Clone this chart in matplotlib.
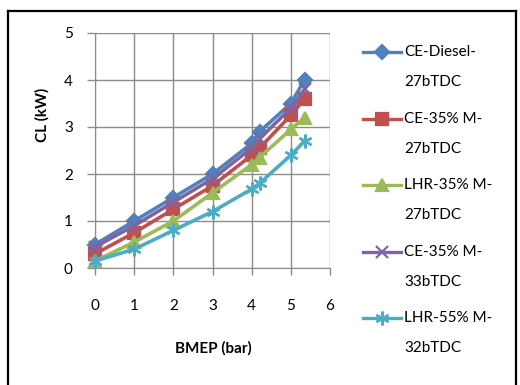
import matplotlib
matplotlib.use("Agg")
import matplotlib.pyplot as plt
from matplotlib.lines import Line2D

plt.rcParams["font.family"] = ["Lato", "DejaVu Sans"]

# BMEP (bar) load points
bmep = [0, 1, 2, 3, 4.0, 4.2, 5.0, 5.35]

# coolant load CL (kW) per configuration
ce_diesel_27 = [0.5, 1.0, 1.5, 2.0, 2.65, 2.9, 3.5, 4.0]
ce_35m_27 = [0.3, 0.75, 1.25, 1.75, 2.4, 2.55, 3.25, 3.6]
lhr_35m_27 = [0.15, 0.55, 1.0, 1.6, 2.2, 2.35, 2.95, 3.2]
ce_35m_33 = [0.45, 0.9, 1.4, 1.9, 2.55, 2.75, 3.4, 3.8]
lhr_55m_32 = [0.15, 0.4, 0.8, 1.2, 1.68, 1.8, 2.4, 2.7]

labels = [
    "CE-Diesel-\n27bTDC",
    "CE-35% M-\n27bTDC",
    "LHR-35% M-\n27bTDC",
    "CE-35% M-\n33bTDC",
    "LHR-55% M-\n32bTDC",
]
x_ticks = [0, 1, 2, 3, 4, 5, 6]
y_ticks = [0, 1, 2, 3, 4, 5]

series = [ce_diesel_27, ce_35m_27, lhr_35m_27, ce_35m_33, lhr_55m_32]
colors = ["#4F81BD", "#C0504D", "#9BBB59", "#8064A2", "#4BACC6"]
markers = ["D", "s", "^", "x", (6, 2, 0)]
msizes = [7, 8, 8.5, 8, 10]

W, H = 520, 385
fig = plt.figure(figsize=(W / 100, H / 100), dpi=100)


def px(x, y):
    """pixel position (from top-left) -> figure fraction"""
    return x / W, 1 - y / H


# outer frame (bottom edge runs off the image)
for (x0, y0), (x1, y1) in [((8, 385), (8, 11)), ((8, 11), (516, 11)), ((516, 11), (516, 385))]:
    (fx0, fy0), (fx1, fy1) = px(x0, y0), px(x1, y1)
    fig.add_artist(Line2D([fx0, fx1], [fy0, fy1], color="black", lw=1.6,
                          transform=fig.transFigure))

ax = fig.add_axes([95 / W, (H - 268) / H, 235 / W, 235 / H])

for vals, c, m, ms in zip(series, colors, markers, msizes):
    ax.plot(bmep, vals, color=c, marker=m, markersize=ms, lw=2.6,
            markeredgewidth=1.6, clip_on=False, zorder=3)

ax.set_xlim(0, 6)
ax.set_ylim(0, 5)
ax.set_xticks(x_ticks)
ax.set_yticks(y_ticks)
ax.grid(True, color="#8c8c8c", lw=1.0)
for side in ("top", "right"):
    ax.spines[side].set_visible(False)
for side in ("left", "bottom"):
    ax.spines[side].set_color("#8c8c8c")
ax.tick_params(axis="y", length=6, width=1, color="#8c8c8c", pad=10, labelsize=11)
ax.tick_params(axis="x", length=5, width=1, color="#8c8c8c", pad=17, labelsize=11)

fig.text(*px(42, 115), "CL (kW)", rotation=90, ha="center", va="center",
         fontsize=11, fontweight="bold")
fig.text(*px(213, 348), "BMEP (bar)", ha="center", va="center",
         fontsize=11, fontweight="bold")

# legend drawn by hand: handle on the first text line, wrapped labels
for i, (c, m, ms, lab) in enumerate(zip(colors, markers, msizes, labels)):
    y = 52 + 66.6 * i
    (hx0, hy), (hx1, _) = px(363, y), px(401, y)
    fig.add_artist(Line2D([hx0, hx1], [hy, hy], color=c, lw=2.4,
                          transform=fig.transFigure))
    fig.add_artist(Line2D([(hx0 + hx1) / 2], [hy], color=c, marker=m,
                          markersize=ms, markeredgewidth=1.6, lw=0,
                          transform=fig.transFigure))
    fig.text(*px(404, y - 7), lab, ha="left", va="top", fontsize=11,
             linespacing=2.45)

fig.savefig("out.png", dpi=100)
